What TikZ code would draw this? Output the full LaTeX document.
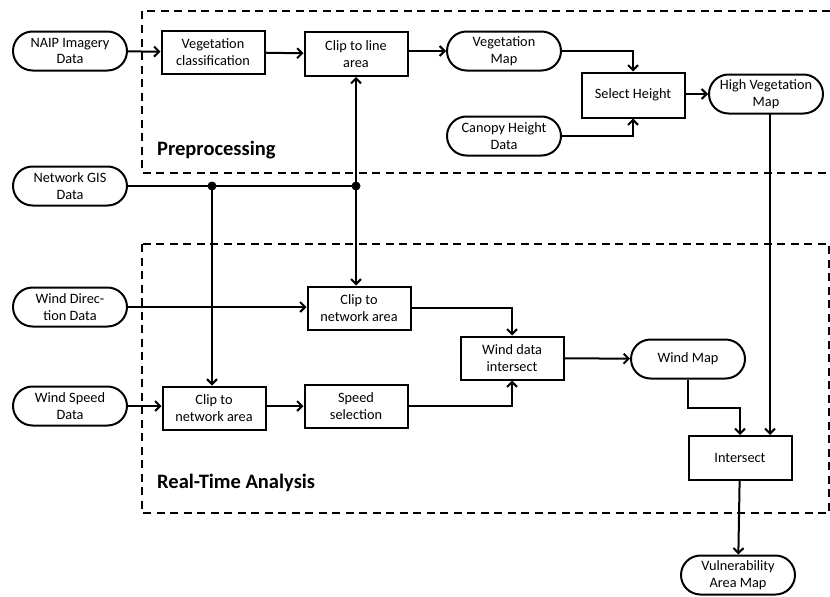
\documentclass[tikz,border=0pt]{standalone}
\usepackage{fontspec}
\setmainfont{Carlito}
\usetikzlibrary{arrows.meta}
\begin{document}
\begin{tikzpicture}[x=1pt,y=-1pt,
  every node/.style={font=\fontsize{14.3}{16.7}\selectfont, align=center, inner sep=0pt},
  term/.style={draw, line width=2pt, rounded corners=19.5pt, minimum width=114pt, minimum height=39pt},
  proc/.style={draw, line width=2pt, minimum width=103pt, minimum height=43pt},
  conn/.style={line width=2pt, -{Straight Barb[length=5pt,width=10pt,line width=2pt]}},
  plain/.style={line width=2pt},
  region/.style={line width=1.6pt, dash pattern=on 8pt off 5.5pt},
  dot/.style={circle, fill, minimum size=9pt, inner sep=0pt},
  title/.style={font=\fontsize{20.5}{24}\selectfont\bfseries, anchor=west}
]
\useasboundingbox (0,0) rectangle (830,597);
% regions
\draw[region] (830,11) -- (142,11) -- (142,173) -- (830,173);
\draw[region] (142,244) rectangle (829,513);
\node[title] (pre) at (157,150) {Preprocessing};
\node[title] (rta) at (157,483) {Real-Time Analysis};
% nodes
\node[term] (naip) at (70,51) {NAIP Imagery\\Data};
\node[proc] (vc) at (213,52) {Vegetation\\classification};
\node[proc, minimum height=44pt] (cla) at (356,54) {Clip to line\\area};
\node[term] (vm) at (504,51) {Vegetation\\Map};
\node[proc, minimum height=45pt] (sh) at (633,95) {Select Height};
\node[term] (hvm) at (766,94) {High Vegetation\\Map};
\node[term] (chd) at (504,136) {Canopy Height\\Data};
\node[term] (gis) at (70,186) {Network GIS\\Data};
\node[dot] (j1) at (212,186) {};
\node[dot] (j2) at (356,186) {};
\node[term] (wdd) at (70,307) {Wind Direc-\\tion Data};
\node[proc] (cna) at (359,308) {Clip to\\network area};
\node[term] (wsd) at (70,406) {Wind Speed\\Data};
\node[proc] (cnb) at (214,408) {Clip to\\network area};
\node[proc] (ss) at (356,406) {Speed\\selection};
\node[proc] (wdi) at (512,358) {Wind data\\intersect};
\node[term] (wm) at (688,359) {Wind Map};
\node[proc, minimum height=44pt] (is) at (740,458) {Intersect};
\node[term] (vam) at (738,575) {Vulnerability\\Area Map};
\coordinate (hv) at (770,114);
% connectors
\draw[conn] (naip) -- (vc);
\draw[conn] (vc) -- (cla);
\draw[conn] (cla.east |- vm) -- (vm);
\draw[conn] (vm.east) -| (sh.north);
\draw[conn] (chd.east) -| (sh.south);
\draw[conn] (sh.east |- hvm) -- (hvm);
\draw[conn] (hv) -- (hv |- is.north);
\draw[plain] (gis.east) -- (j2.center);
\draw[conn] (j2.center) -- (cla.south);
\draw[conn] (j2.center) -- (j2 |- cna.north);
\draw[conn] (j1.center) -- (j1 |- cnb.north);
\draw[conn] (wdd.east) -- (wdd.east -| cna.west);
\draw[conn] (wsd.east) -- (wsd.east -| cnb.west);
\draw[conn] (cnb.east |- ss) -- (ss);
\draw[conn] (cna.east) -| (wdi.north);
\draw[conn] (ss.east) -| (wdi.south);
\draw[conn] (wdi) -- (wm);
\draw[conn] (wm.south) -- ++(0,28) -| (is.north);
\draw[conn] (is) -- (vam);
\end{tikzpicture}
\end{document}
